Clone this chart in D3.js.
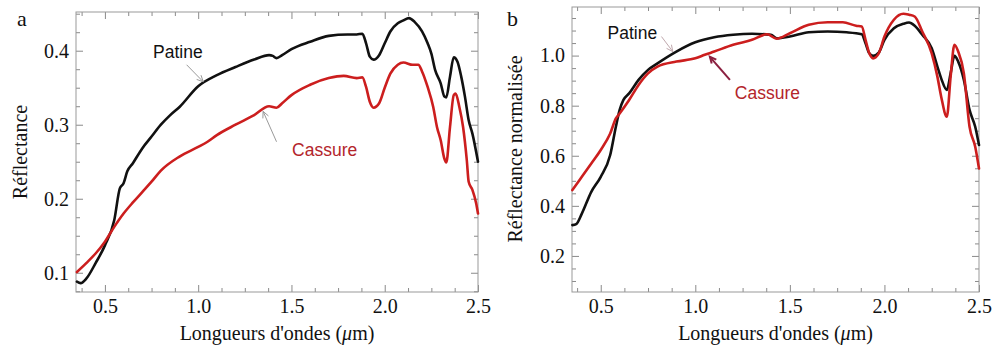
<!DOCTYPE html>
<html><head><meta charset="utf-8">
<script src="https://cdn.jsdelivr.net/npm/d3@7"></script>
<style>body{margin:0;background:#fff}svg{display:block}</style>
</head><body>
<script>
// ---------- DATA ----------
const xTicks = [0.5, 1.0, 1.5, 2.0, 2.5];
const aYTicks = [0.1, 0.2, 0.3, 0.4];
const bYTicks = [0.2, 0.4, 0.6, 0.8, 1.0];
const seriesNames = ["Patine", "Cassure"];

const aPatineX = [0.35,0.37,0.40,0.45,0.50,0.55,0.58,0.60,0.62,0.65,0.70,0.75,0.80,0.85,0.90,1.00,1.10,1.20,1.30,1.38,1.40,1.42,1.45,1.50,1.60,1.70,1.80,1.85,1.88,1.90,1.92,1.94,1.97,2.00,2.03,2.07,2.10,2.13,2.16,2.20,2.23,2.25,2.27,2.30,2.32,2.33,2.35,2.37,2.39,2.41,2.43,2.45,2.47,2.50];
const aPatineY = [0.088,0.086,0.092,0.113,0.137,0.171,0.214,0.221,0.237,0.248,0.268,0.284,0.300,0.313,0.324,0.352,0.367,0.378,0.388,0.394,0.393,0.390,0.394,0.402,0.412,0.420,0.422,0.422,0.423,0.410,0.392,0.388,0.394,0.410,0.426,0.437,0.441,0.444,0.439,0.426,0.410,0.396,0.374,0.356,0.338,0.337,0.365,0.391,0.385,0.365,0.338,0.306,0.288,0.250];

const aCassureX = [0.35,0.40,0.45,0.50,0.55,0.60,0.65,0.70,0.75,0.80,0.90,1.00,1.05,1.10,1.20,1.30,1.38,1.42,1.45,1.50,1.60,1.70,1.78,1.85,1.88,1.90,1.92,1.94,1.97,2.00,2.03,2.07,2.10,2.15,2.18,2.20,2.23,2.26,2.28,2.30,2.32,2.33,2.35,2.37,2.38,2.40,2.42,2.44,2.45,2.47,2.49,2.50];
const aCassureY = [0.101,0.113,0.126,0.142,0.162,0.180,0.195,0.209,0.223,0.238,0.257,0.270,0.277,0.286,0.300,0.313,0.325,0.323,0.329,0.340,0.354,0.363,0.366,0.363,0.364,0.351,0.331,0.323,0.329,0.350,0.369,0.381,0.384,0.381,0.381,0.372,0.351,0.324,0.297,0.279,0.254,0.249,0.297,0.340,0.342,0.324,0.297,0.252,0.223,0.212,0.194,0.180];

const bPatineX = [0.35,0.37,0.40,0.45,0.50,0.55,0.58,0.60,0.62,0.65,0.70,0.75,0.80,0.90,1.00,1.10,1.20,1.30,1.40,1.43,1.50,1.60,1.70,1.80,1.88,1.90,1.92,1.94,1.97,2.00,2.05,2.10,2.13,2.16,2.20,2.25,2.28,2.30,2.33,2.35,2.37,2.39,2.42,2.45,2.48,2.50];
const bPatineY = [0.323,0.327,0.369,0.456,0.516,0.603,0.716,0.783,0.823,0.849,0.903,0.943,0.969,1.016,1.053,1.073,1.083,1.087,1.083,1.069,1.076,1.093,1.096,1.093,1.085,1.049,1.009,0.999,1.012,1.063,1.109,1.127,1.132,1.119,1.083,1.029,0.956,0.909,0.863,0.929,0.999,0.976,0.903,0.783,0.716,0.643];

const bCassureX = [0.35,0.40,0.45,0.50,0.55,0.58,0.60,0.65,0.70,0.75,0.80,0.90,1.00,1.05,1.10,1.20,1.30,1.38,1.43,1.50,1.60,1.70,1.78,1.85,1.88,1.90,1.92,1.94,1.97,2.00,2.05,2.10,2.13,2.16,2.20,2.25,2.28,2.30,2.33,2.35,2.37,2.39,2.42,2.45,2.48,2.50];
const bCassureY = [0.463,0.516,0.569,0.623,0.689,0.749,0.769,0.823,0.883,0.929,0.956,0.976,0.989,1.003,1.016,1.043,1.063,1.085,1.067,1.089,1.123,1.133,1.133,1.119,1.116,1.063,1.009,0.989,1.009,1.076,1.143,1.167,1.163,1.156,1.096,1.009,0.916,0.836,0.756,0.916,1.043,1.016,0.929,0.716,0.636,0.549];

// ---------- DRAW ----------
const W = 993, H = 347;
const svg = d3.select("body").append("svg").attr("width", W).attr("height", H);
const fmt = d3.format(".1f");
const lineBlack = "#111", lineRed = "#cc1e1e", textRed = "#b3252b";

function range(a, b, s) { const r = []; for (let v = a; v <= b + 1e-9; v += s) r.push(+v.toFixed(4)); return r; }

function panel(cfg) {
  const { left, right, top, bottom, xDom, yDom, yTicks, yMinor, ylabel, letter, letterX, ylabelX, ylabelY, series, notes } = cfg;
  const x = d3.scaleLinear().domain(xDom).range([left, right]);
  const y = d3.scaleLinear().domain(yDom).range([bottom, top]);
  const g = svg.append("g");
  const xMinor = range(0.375, 2.5, 0.125).filter(v => !xTicks.some(t => Math.abs(t - v) < 1e-6));
  const yMin = yMinor.filter(v => !yTicks.some(t => Math.abs(t - v) < 1e-6));
  const tickCol = "#8a8a8a";

  function axisGroup(axis, tr) {
    const a = g.append("g").attr("transform", tr).call(axis);
    a.select(".domain").remove();
    a.selectAll("line").attr("stroke", tickCol);
    return a;
  }
  // major ticks with labels
  const bx = axisGroup(d3.axisBottom(x).tickValues(xTicks).tickFormat(fmt).tickSize(-7).tickPadding(7), `translate(0,${bottom})`);
  const ly = axisGroup(d3.axisLeft(y).tickValues(yTicks).tickFormat(fmt).tickSize(-7).tickPadding(7), `translate(${left},0)`);
  [bx, ly].forEach(a => a.selectAll("text").attr("font-family", "Liberation Serif, Times New Roman, serif").attr("font-size", 20).attr("fill", "#111"));
  axisGroup(d3.axisTop(x).tickValues(xTicks).tickFormat("").tickSize(-7), `translate(0,${top})`);
  axisGroup(d3.axisRight(y).tickValues(yTicks).tickFormat("").tickSize(-7), `translate(${right},0)`);
  // minor ticks
  axisGroup(d3.axisBottom(x).tickValues(xMinor).tickFormat("").tickSize(-4), `translate(0,${bottom})`);
  axisGroup(d3.axisTop(x).tickValues(xMinor).tickFormat("").tickSize(-4), `translate(0,${top})`);
  axisGroup(d3.axisLeft(y).tickValues(yMin).tickFormat("").tickSize(-4), `translate(${left},0)`);
  axisGroup(d3.axisRight(y).tickValues(yMin).tickFormat("").tickSize(-4), `translate(${right},0)`);

  // frame
  g.append("rect").attr("x", left).attr("y", top).attr("width", right - left).attr("height", bottom - top)
    .attr("fill", "none").attr("stroke", "#999").attr("stroke-width", 1);

  // lines
  const line = d3.line().x(d => x(d[0])).y(d => y(d[1])).curve(d3.curveMonotoneX);
  series.forEach(s => {
    const pts = s.xs.map((v, i) => [v, s.ys[i]]);
    g.append("path").datum(pts).attr("d", line).attr("fill", "none").attr("stroke", s.color)
      .attr("stroke-width", 2.6).attr("stroke-linejoin", "round").attr("stroke-linecap", "round");
  });

  // annotations
  notes.forEach(n => {
    g.append("text").attr("x", x(n.tx)).attr("y", y(n.ty)).attr("dy", "0.35em").attr("text-anchor", "middle")
      .attr("font-family", "Liberation Sans, Arial, sans-serif").attr("font-size", 17.5).attr("fill", n.color).text(n.label);
    const x1 = x(n.a[0]), y1 = y(n.a[1]), x2 = x(n.a[2]), y2 = y(n.a[3]);
    g.append("line").attr("x1", x1).attr("y1", y1).attr("x2", x2).attr("y2", y2).attr("stroke", n.acol).attr("stroke-width", n.aw);
    const ang = Math.atan2(y2 - y1, x2 - x1), L = 7, sp = 0.45;
    g.append("path").attr("d", `M${x2 - L * Math.cos(ang - sp)},${y2 - L * Math.sin(ang - sp)}L${x2},${y2}L${x2 - L * Math.cos(ang + sp)},${y2 - L * Math.sin(ang + sp)}`)
      .attr("fill", "none").attr("stroke", n.acol).attr("stroke-width", n.aw);
  });

  // axis titles
  const xt = g.append("text").attr("x", (left + right) / 2).attr("y", 340).attr("text-anchor", "middle")
    .attr("font-family", "Liberation Serif, Times New Roman, serif").attr("font-size", 20).attr("fill", "#111");
  xt.append("tspan").text("Longueurs d'ondes (");
  xt.append("tspan").attr("font-style", "italic").text("μ");
  xt.append("tspan").text("m)");
  g.append("text").attr("transform", `translate(${ylabelX},${ylabelY}) rotate(-90)`).attr("text-anchor", "middle")
    .attr("font-family", "Liberation Serif, Times New Roman, serif").attr("font-size", 20).attr("fill", "#111").text(ylabel);
  g.append("text").attr("x", letterX).attr("y", 26).attr("font-family", "Liberation Serif, Times New Roman, serif")
    .attr("font-size", 22).attr("fill", "#111").text(letter);
}

panel({
  left: 76, right: 478, top: 12, bottom: 292, xDom: [0.345, 2.5], yDom: [0.074, 0.4523],
  yTicks: aYTicks, yMinor: range(0.075, 0.45, 0.025), ylabel: "Réflectance", letter: "a", letterX: 17,
  ylabelX: 27, ylabelY: 152,
  series: [{ xs: aPatineX, ys: aPatineY, color: lineBlack }, { xs: aCassureX, ys: aCassureY, color: lineRed }],
  notes: [
    { label: seriesNames[0], color: "#111", tx: 0.891, ty: 0.398, a: [0.938, 0.381, 1.027, 0.358], acol: "#9a9a9a", aw: 1 },
    { label: seriesNames[1], color: textRed, tx: 1.678, ty: 0.266, a: [1.42, 0.277, 1.348, 0.318], acol: "#9a9a9a", aw: 1 }
  ]
});

panel({
  left: 572, right: 979, top: 7, bottom: 292, xDom: [0.348, 2.5], yDom: [0.056, 1.194],
  yTicks: bYTicks, yMinor: range(0.1, 1.15, 0.05), ylabel: "Réflectance normalisée", letter: "b", letterX: 507,
  ylabelX: 522, ylabelY: 149,
  series: [{ xs: bPatineX, ys: bPatineY, color: lineBlack }, { xs: bCassureX, ys: bCassureY, color: lineRed }],
  notes: [
    { label: seriesNames[0], color: "#111", tx: 0.667, ty: 1.091, a: [0.821, 1.076, 0.881, 1.016], acol: "#c0a8ad", aw: 1 },
    { label: seriesNames[1], color: textRed, tx: 1.381, ty: 0.851, a: [1.183, 0.903, 1.077, 0.995], acol: "#8b2040", aw: 2 }
  ]
});
</script>
</body></html>
